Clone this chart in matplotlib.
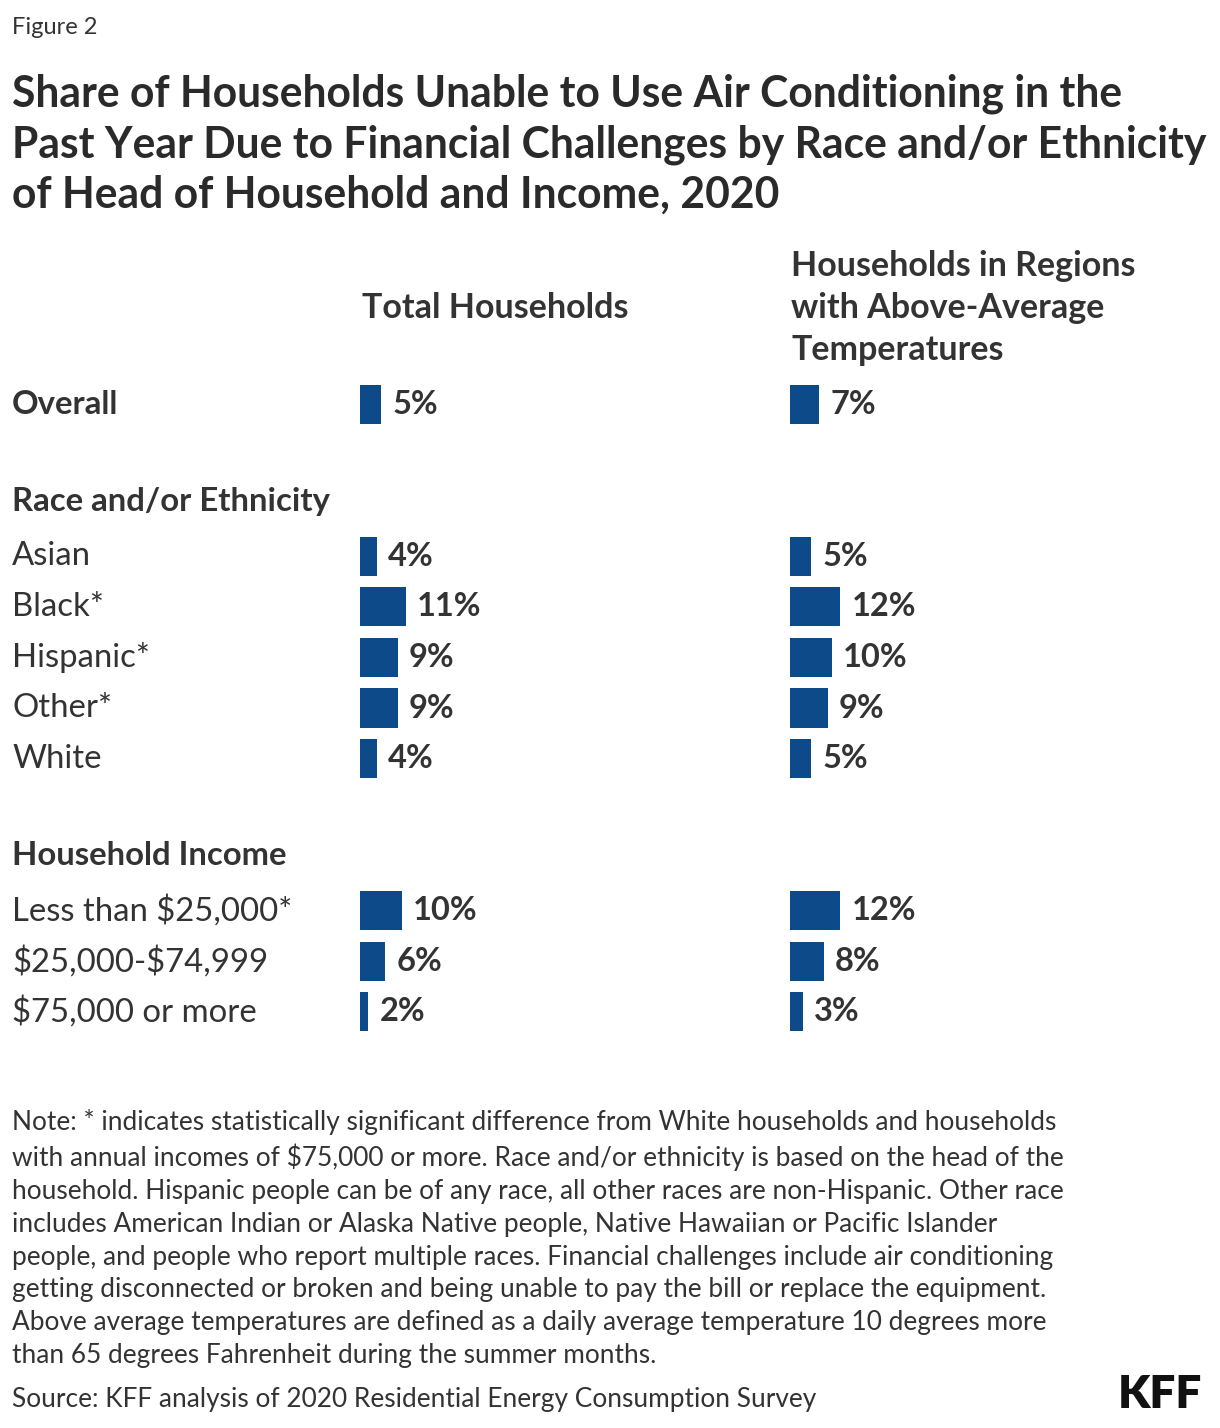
import matplotlib.pyplot as plt
from matplotlib.transforms import blended_transform_factory

plt.rcParams['font.family'] = ['Lato', 'DejaVu Sans']
plt.rcParams['text.parse_math'] = False

# rows: label, total households, above-average temperature regions, kind
labels = ["Overall", "", "Race and/or Ethnicity", "Asian", "Black*", "Hispanic*",
          "Other*", "White", "", "Household Income", "Less than $25,000*",
          "$25,000-$74,999", "$75,000 or more"]
kinds = ["bold", "blank", "head", "row", "row", "row", "row", "row", "blank",
         "head", "row", "row", "row"]
total = [5, None, None, 4, 11, 9, 9, 4, None, None, 10, 6, 2]
hot = [7, None, None, 5, 12, 10, 9, 5, None, None, 12, 8, 3]

title = ("Share of Households Unable to Use Air Conditioning in the\n"
         "Past Year Due to Financial Challenges by Race and/or Ethnicity\n"
         "of Head of Household and Income, 2020")
note = ("Note: * indicates statistically significant difference from White households and households\n"
        "with annual incomes of $75,000 or more. Race and/or ethnicity is based on the head of the\n"
        "household. Hispanic people can be of any race, all other races are non-Hispanic. Other race\n"
        "includes American Indian or Alaska Native people, Native Hawaiian or Pacific Islander\n"
        "people, and people who report multiple races. Financial challenges include air conditioning\n"
        "getting disconnected or broken and being unable to pay the bill or replace the equipment.\n"
        "Above average temperatures are defined as a daily average temperature 10 degrees more\n"
        "than 65 degrees Fahrenheit during the summer months.")
source = "Source: KFF analysis of 2020 Residential Energy Consumption Survey"

BLUE = "#0c4a8a"
TXT = "#333333"
W, H = 1220, 1428

fig = plt.figure(figsize=(W / 100, H / 100), dpi=100)


def fx(px):
    return px / W


def fy(py):
    return 1 - py / H


top_px, bot_px = 378.7, 1037.3
axes = []
for x0, vals in [(360, total), (790, hot)]:
    ax = fig.add_axes([fx(x0), fy(bot_px), fx(300), (bot_px - top_px) / H])
    ax.set_xlim(0, 300 / 4.2)
    ax.set_ylim(len(labels) - 0.5, -0.5)
    ax.axis("off")
    ys = [i for i, v in enumerate(vals) if v is not None]
    vs = [v for v in vals if v is not None]
    ax.barh(ys, vs, height=0.77, color=BLUE)
    for y, v in zip(ys, vs):
        ax.annotate(f"{v}%", (v, y), xytext=(8, 0), textcoords="offset points",
                    va="center", ha="left", fontsize=23.5, fontweight="bold", color=TXT)
    axes.append(ax)

tr = blended_transform_factory(fig.transFigure, axes[0].transData)
for i, (lab, k) in enumerate(zip(labels, kinds)):
    if k == "blank":
        continue
    y = i - 0.08 if k == "head" else i
    fig.text(fx(12), y, lab, transform=tr, va="center", ha="left", fontsize=23.7,
             fontweight="bold" if k in ("bold", "head") else "normal", color=TXT)

fig.text(fx(12), fy(27), "Figure 2", fontsize=17, color=TXT, va="center")
fig.text(fx(12), fy(73), title, fontsize=30.7, fontweight="bold", color="#2a2a2a",
         va="top", ha="left", linespacing=1.32)
fig.text(fx(362), fy(308), "Total Households", fontsize=24.5, fontweight="bold",
         color=TXT, va="center")
fig.text(fx(791), fy(308), "Households in Regions\nwith Above-Average\nTemperatures",
         fontsize=24.5, fontweight="bold", color=TXT, va="center", linespacing=1.4)
fig.text(fx(12), fy(1109), note, fontsize=18.9, color=TXT, va="top", linespacing=1.39)
fig.text(fx(12), fy(1400), source, fontsize=18.9, color=TXT, va="center")
fig.text(fx(1202), fy(1395), "KFF", fontsize=33, fontweight="heavy", color="#111111",
         va="center", ha="right")

fig.savefig("out.png", dpi=100)
